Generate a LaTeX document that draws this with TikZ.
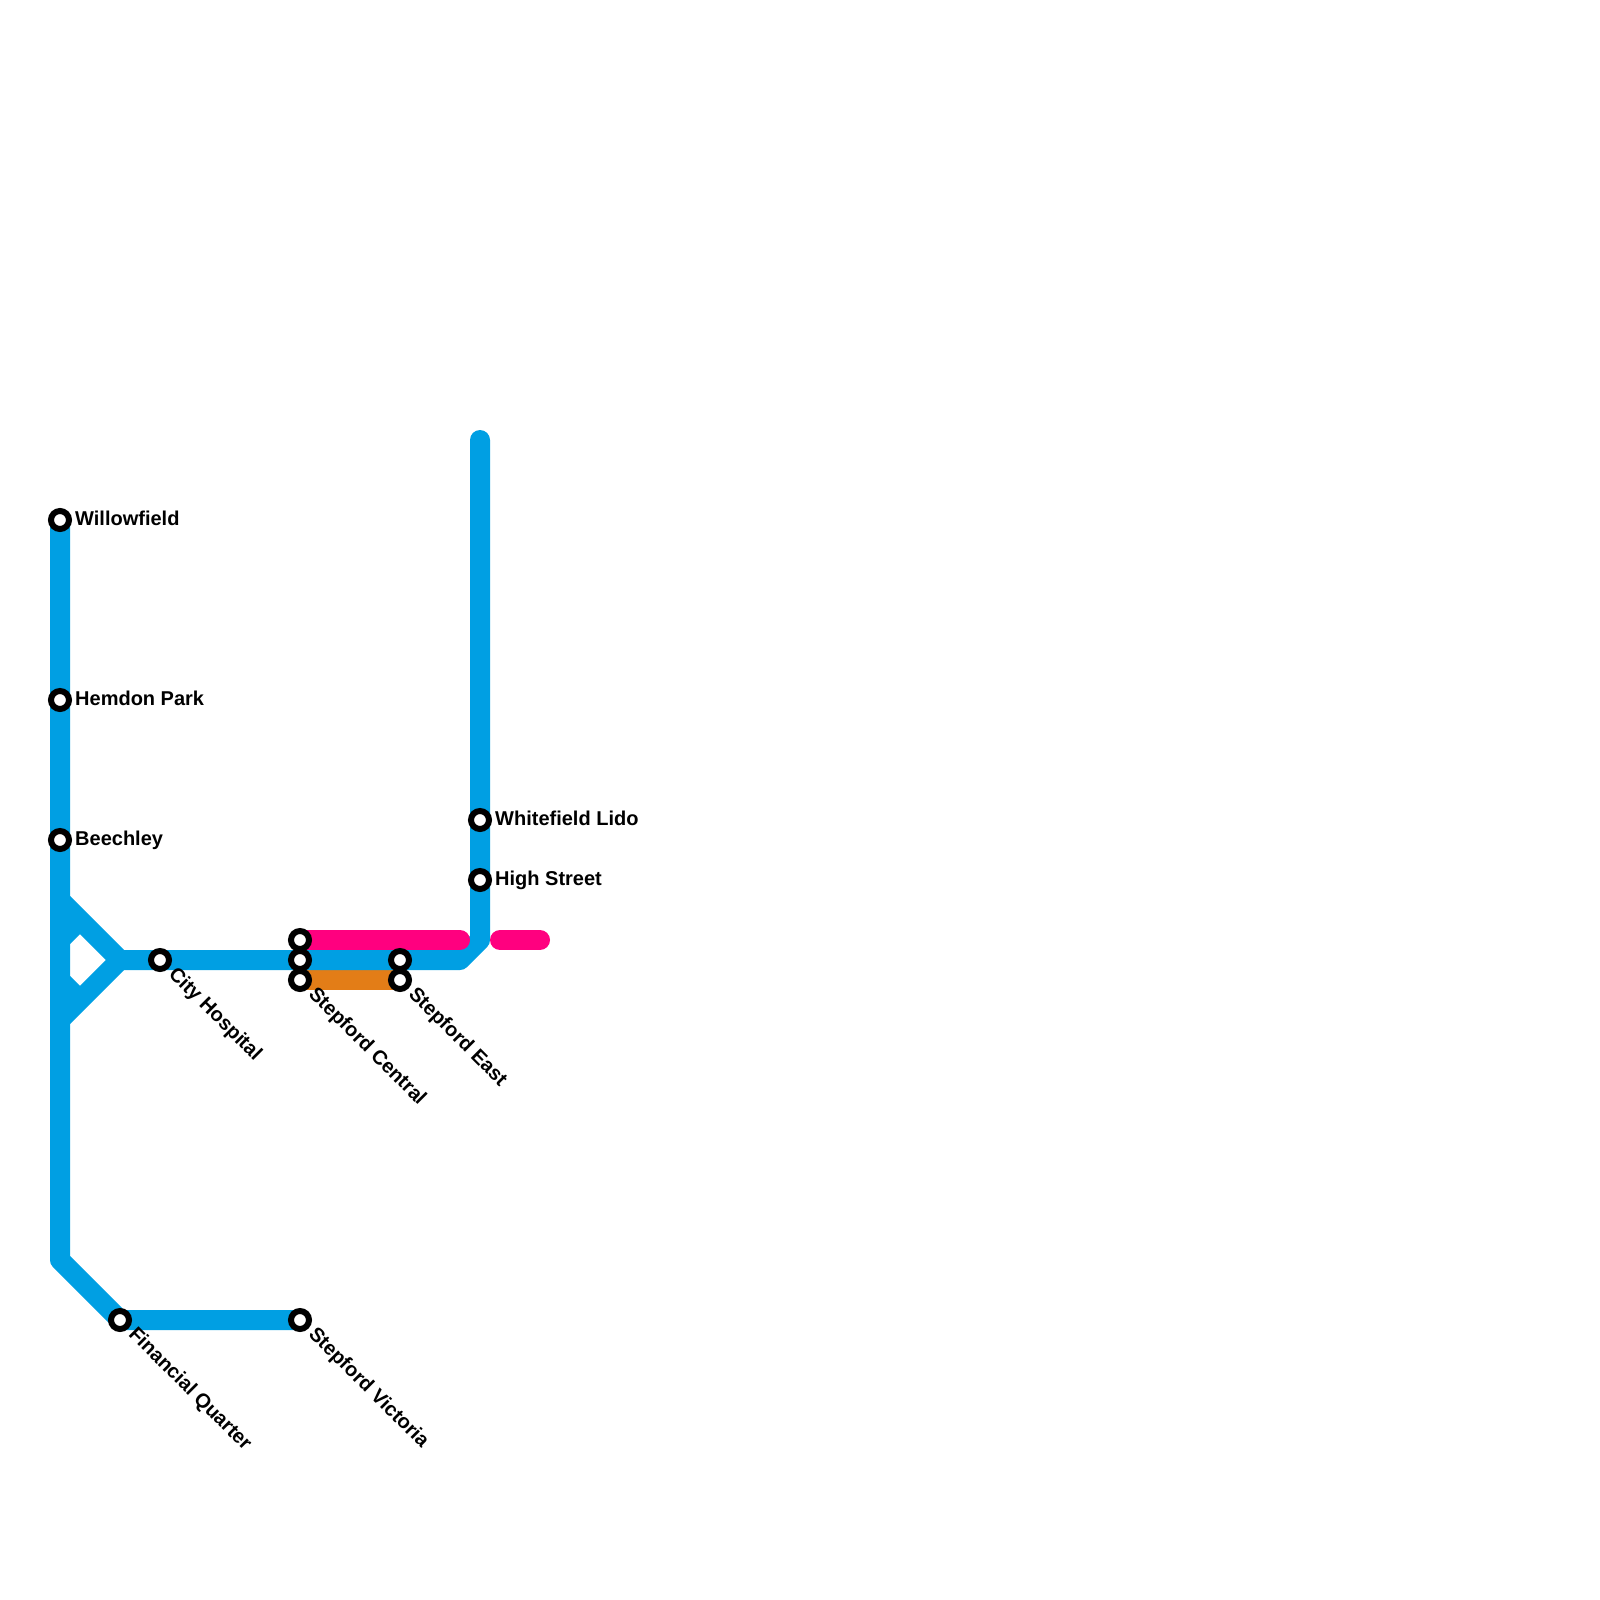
\documentclass[tikz,border=0pt]{standalone}
\usepackage{fontspec}
\setmainfont{Liberation Sans}
\tikzset{
  x=1pt,y=-1pt,
  track/.style={line width=20pt,line join=round},
  blueline/.style={track,draw=lineblue},
  pinkline/.style={track,draw=linepink,line cap=round},
  orangeline/.style={track,draw=lineorange},
  stn/.style={circle,draw=black,fill=white,line width=6pt,minimum size=18pt,inner sep=0pt},
  lab/.style={font=\fontsize{20}{20}\selectfont\bfseries,inner sep=0pt,text=black},
  labe/.style={lab,anchor=mid west,xshift=15pt,yshift=-2.7pt},
  labd/.style={lab,anchor=mid west,xshift=9.5pt,yshift=-13pt,rotate=-45},
}
\definecolor{lineblue}{HTML}{009FE3}
\definecolor{linepink}{HTML}{FF007F}
\definecolor{lineorange}{HTML}{E37D17}
\begin{document}
\begin{tikzpicture}
\useasboundingbox (0,0) rectangle (1600,1600);
\coordinate (wf) at (60,520);
\coordinate (hp) at (60,700);
\coordinate (be) at (60,840);
\coordinate (ch) at (160,960);
\coordinate (fq) at (120,1320);
\coordinate (sv) at (300,1320);
\coordinate (sa) at (300,940);
\coordinate (sb) at (300,960);
\coordinate (sc) at (300,980);
\coordinate (ea) at (400,960);
\coordinate (eb) at (400,980);
\coordinate (wl) at (480,820);
\coordinate (hs) at (480,880);
\coordinate (top) at (480,440);
\coordinate (hub) at (120,960);
\coordinate (pa) at (460,940);
\coordinate (pb) at (500,940);
\coordinate (pc) at (540,940);
\draw[orangeline] (sc) -- (eb);
\draw[blueline,line cap=round] (top) -- (480,940) -- (460,960) -- (hub);
\draw[blueline] (wf) -- (60,1260) -- (fq) -- (sv);
\draw[blueline] (60,900) -- (hub) -- (60,1020);
\draw[blueline] (60,940) -- (80,920);
\draw[blueline] (60,980) -- (80,1000);
\draw[pinkline] (sa) -- (pa);
\draw[pinkline] (pb) -- (pc);
\node[stn] (nwf) at (wf) {};
\node[stn] (nhp) at (hp) {};
\node[stn] (nbe) at (be) {};
\node[stn] (nch) at (ch) {};
\node[stn] (nfq) at (fq) {};
\node[stn] (nsv) at (sv) {};
\node[stn] (nsa) at (sa) {};
\node[stn] (nsb) at (sb) {};
\node[stn] (nsc) at (sc) {};
\node[stn] (nea) at (ea) {};
\node[stn] (neb) at (eb) {};
\node[stn] (nwl) at (wl) {};
\node[stn] (nhs) at (hs) {};
\node[labe] (lwf) at (wf) {Willowfield};
\node[labe] (lhp) at (hp) {Hemdon Park};
\node[labe] (lbe) at (be) {Beechley};
\node[labe] (lwl) at (wl) {Whitefield Lido};
\node[labe] (lhs) at (hs) {High Street};
\node[labd] (lch) at (ch) {City Hospital};
\node[labd] (lfq) at (fq) {Financial Quarter};
\node[labd] (lsv) at (sv) {Stepford Victoria};
\node[labd] (lsc) at (sc) {Stepford Central};
\node[labd] (leb) at (eb) {Stepford East};
\end{tikzpicture}
\end{document}
